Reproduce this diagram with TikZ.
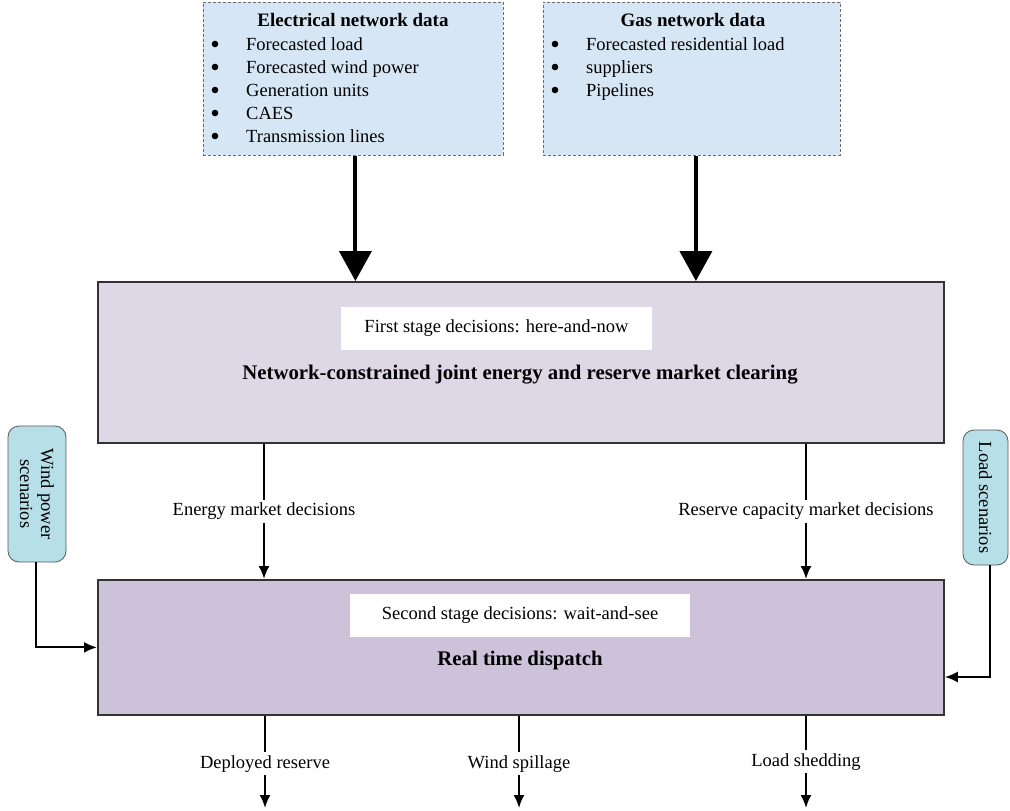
\documentclass[tikz,border=0pt]{standalone}
\usepackage{fontspec}
\setmainfont{Liberation Serif}
\usetikzlibrary{arrows.meta}
\definecolor{databg}{HTML}{D6E6F4}
\definecolor{stageone}{HTML}{DDD7E6}
\definecolor{stagetwo}{HTML}{CCC3DB}
\definecolor{scenbg}{HTML}{B6DFE8}
\definecolor{framec}{HTML}{333333}
\begin{document}
\begin{tikzpicture}[x=1pt,y=-1pt,
  every node/.style={font=\fontsize{18.5}{22}\selectfont, inner sep=0pt},
  bigbold/.style={font=\fontsize{20.8}{24}\selectfont\bfseries},
  databox/.style={draw=gray!85!black, dash pattern=on 3pt off 2pt, fill=databg, line width=0.8pt, anchor=north west},
  mainbox/.style={draw=framec, line width=1.8pt, anchor=north west},
  whitebox/.style={fill=white, minimum height=43pt},
  item/.style={anchor=base west},
  bulletdot/.style={circle, fill=black, minimum size=6.6pt, inner sep=0pt},
  thickarrow/.style={line width=4pt, -{Triangle[width=32pt,length=30pt]}},
  thinarrow/.style={line width=2pt, -{Latex[width=11pt,length=13pt]}},
  lbl/.style={fill=white, inner sep=3pt},
  scen/.style={draw=gray!70!black, fill=scenbg, rounded corners=11pt, line width=0.8pt}
]
\useasboundingbox (0,0) rectangle (1010,811);

% data boxes
\node[databox, minimum width=300pt, minimum height=153pt] (elec) at (203,2) {};
\node[anchor=base, font=\fontsize{19}{22}\selectfont\bfseries] (electitle) at (353,27) {Electrical network data};
\foreach \yy/\tt [count=\i] in {50/Forecasted load, 73/Forecasted wind power, 96/Generation units, 119/CAES, 142/Transmission lines}{
  \node[bulletdot] (eb\i) at (215,\yy-6) {};
  \node[item] (e\i) at (246,\yy) {\tt};
}

\node[databox, minimum width=297pt, minimum height=153pt] (gas) at (543,2) {};
\node[anchor=base, font=\fontsize{19}{22}\selectfont\bfseries] (gastitle) at (693,27) {Gas network data};
\foreach \yy/\tt [count=\i] in {50/Forecasted residential load, 73/suppliers, 96/Pipelines}{
  \node[bulletdot] (gb\i) at (555,\yy-6) {};
  \node[item] (g\i) at (586,\yy) {\tt};
}

% stage one
\node[mainbox, fill=stageone, minimum width=846pt, minimum height=161pt] (s1) at (97,281) {};
\node[whitebox, minimum width=311pt] (s1lab) at (496.5,328.5) {First stage decisions: here-and-now};
\node[bigbold] (s1title) at (520,375) {Network-constrained joint energy and reserve market clearing};

% stage two
\node[mainbox, fill=stagetwo, minimum width=846pt, minimum height=135pt] (s2) at (97,579) {};
\node[whitebox, minimum width=340pt] (s2lab) at (520,615.5) {Second stage decisions: wait-and-see};
\node[bigbold] (s2title) at (520,660) {Real time dispatch};

% scenario boxes
\node[scen, minimum width=58pt, minimum height=136pt] (wind) at (37,494) {};
\node[rotate=-90, align=center, font=\fontsize{18.5}{21}\selectfont] (windtxt) at (wind.center) {Wind power\\scenarios};
\node[scen, minimum width=45pt, minimum height=135pt] (load) at (985.5,497.5) {};
\node[rotate=-90] (loadtxt) at (load.center) {Load scenarios};

% helper coordinates
\coordinate (xa) at (264,0);
\coordinate (xb) at (806,0);
\coordinate (ya) at (0,677);
\coordinate (o1) at (265,808);
\coordinate (o2) at (519,808);
\coordinate (o3) at (806,808);

% arrows from data boxes
\draw[thickarrow] ([xshift=2pt]elec.south) -- ([xshift=2pt]elec.south |- s1.north);
\draw[thickarrow] ([xshift=4pt]gas.south) -- ([xshift=4pt]gas.south |- s1.north);

% stage one to stage two
\draw[thinarrow] (s1.south -| xa) -- node[lbl] {Energy market decisions} (s2.north -| xa);
\draw[thinarrow] (s1.south -| xb) -- node[lbl] {Reserve capacity market decisions} (s2.north -| xb);

% scenarios
\draw[thinarrow] ([xshift=-1pt]wind.south) |- (s2.west);
\draw[thinarrow] ([xshift=4pt]load.south) |- (s2.east |- ya);

% outputs
\draw[thinarrow] (s2.south -| o1) -- node[lbl, yshift=-2pt] {Deployed reserve} (o1);
\draw[thinarrow] (s2.south -| o2) -- node[lbl, yshift=-2pt] {Wind spillage} (o2);
\draw[thinarrow] (s2.south -| o3) -- node[lbl] {Load shedding} (o3);
\end{tikzpicture}
\end{document}
